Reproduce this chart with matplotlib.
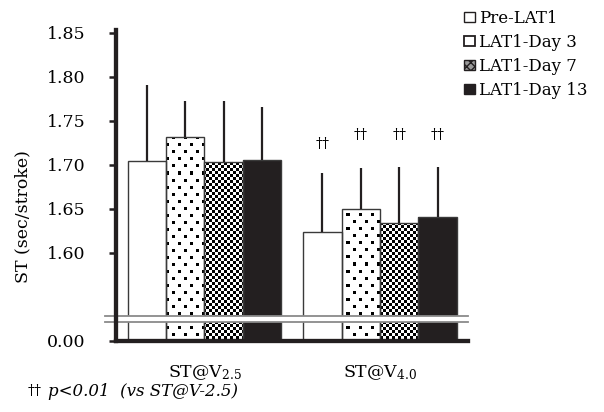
import numpy as np
import matplotlib
matplotlib.use('Agg')
import matplotlib.pyplot as plt
from matplotlib.patches import Patch

plt.rcParams['font.family'] = ['DejaVu Serif']
plt.rcParams['mathtext.fontset'] = 'dejavuserif'

# data
groups = ['ST@V$_{2.5}$', 'ST@V$_{4.0}$']
series = ['Pre-LAT1', 'LAT1-Day 3', 'LAT1-Day 7', 'LAT1-Day 13']
pre_mean = [1.704, 1.624]
d3_mean = [1.732, 1.650]
d7_mean = [1.703, 1.634]
d13_mean = [1.705, 1.640]
pre_sd = [0.087, 0.067]
d3_sd = [0.040, 0.046]
d7_sd = [0.069, 0.063]
d13_sd = [0.060, 0.057]
dagger_y = [1.723, 1.734, 1.734, 1.734]   # marks over the V4.0 bars
yticks = [0.0, 1.60, 1.65, 1.70, 1.75, 1.80, 1.85]

means = [pre_mean, d3_mean, d7_mean, d13_mean]
sds = [pre_sd, d3_sd, d7_sd, d13_sd]

# broken y axis: 0..LO drawn just below 1.52, gap, then 1.5284 upward
LO, HI, D0 = 0.0208, 1.5284, 1.50
DLO = D0 + LO
k = (HI - DLO) / (HI - LO)

def fwd(y):
    y = np.asarray(y, dtype=float)
    return np.where(y < LO, y + D0, np.where(y < HI, DLO + (y - LO) * k, y))

def inv(d):
    d = np.asarray(d, dtype=float)
    return np.where(d < DLO, d - D0, np.where(d < HI, LO + (d - DLO) / k, d))

W, H = 604, 412
fig = plt.figure(figsize=(W / 100, H / 100), dpi=100)
ax = fig.add_axes([116 / W, 71.3 / H, 352 / W, 310.7 / H])
ax.set_yscale('function', functions=(fwd, inv))

# pixel textures (dots / checker) laid over the patterned bars
tw, th = 352, 311
dots = np.ones((th, tw))
for j, r in enumerate(range(2, th, 7)):
    off = 6 * (j % 2)
    for c in range(off + 2, tw, 12):
        dots[r:r + 3, c:c + 3] = 0
yy, xx = np.mgrid[0:th, 0:tw]
checker = (((yy // 3) + (xx // 3)) % 2).astype(float)

x = np.arange(len(groups))
w = 0.219
faces = ['white', 'white', 'white', '#231f20']
textures = [None, dots, checker, None]
for i, (m, s) in enumerate(zip(means, sds)):
    xi = x + (i - 1.5) * w
    bars = ax.bar(xi, m, w, color=faces[i], edgecolor='none', zorder=1)
    if textures[i] is not None:
        for b in bars:
            im = ax.imshow(textures[i], extent=(0, 1, 0, 1), transform=ax.transAxes,
                           cmap='gray', vmin=0, vmax=1, interpolation='nearest',
                           aspect='auto', zorder=1.5)
            im.set_clip_path(b)
    ax.bar(xi, m, w, fill=False, edgecolor='#3a3a3a', linewidth=1.0, zorder=2)
    ax.errorbar(xi, m, yerr=[np.zeros(len(s)), s], fmt='none', ecolor='#231f20',
                elinewidth=1.6, capsize=0, zorder=2.5)

# daggers over the V4.0 group
for i in range(len(series)):
    ax.text(x[1] + (i - 1.5) * w, dagger_y[i], '††', ha='center', va='center',
            fontsize=10, zorder=3)

# the break band
ax.axhspan(LO, HI, color='white', zorder=3, lw=0)
for yl in (LO, HI):
    ax.axhline(yl, xmin=-0.031, xmax=1, color='#8a8a8a', lw=1.3, clip_on=False, zorder=3.2)

ax.set_xlim(-0.504, 1.501)
ax.set_ylim(0, 1.853)
ax.set_yticks(yticks)
ax.set_yticklabels(['%.2f' % v for v in yticks], fontsize=12.5)
ax.set_xticks(x)
ax.set_xticklabels(groups, fontsize=12.5)
ax.tick_params(axis='x', length=0, pad=16)
ax.tick_params(axis='y', direction='out', length=5, width=1.8, pad=17, color='#231f20')
for sp in ('top', 'right'):
    ax.spines[sp].set_visible(False)
for sp in ('left', 'bottom'):
    ax.spines[sp].set_linewidth(3.1)
    ax.spines[sp].set_color('#231f20')
ax.spines['left'].set_zorder(4)

fig.text(23 / W, 1 - 217 / H, 'ST (sec/stroke)', rotation=90, ha='center', va='center',
         fontsize=12.5)

handles = [Patch(facecolor='white', edgecolor='#231f20', lw=1),
           Patch(facecolor='white', edgecolor='#231f20', lw=1.3),
           Patch(facecolor='#9a9a9a', edgecolor='#231f20', lw=1, hatch='xxxx'),
           Patch(facecolor='#231f20', edgecolor='#231f20', lw=1)]
leg = fig.legend(handles, series, loc='upper left', bbox_to_anchor=(464 / W, 1 - 10 / H),
                 frameon=False, fontsize=12, handlelength=0.68, handleheight=0.55,
                 handletextpad=0.2, labelspacing=0.42, borderaxespad=0, borderpad=0)

fig.text(28 / W, 1 - 391 / H, '††', ha='left', va='center', fontsize=10)
fig.text(48 / W, 1 - 391 / H, 'p<0.01  (vs ST@V-2.5)', ha='left', va='center',
         fontsize=12, style='italic')

fig.savefig('out.png', dpi=100)
